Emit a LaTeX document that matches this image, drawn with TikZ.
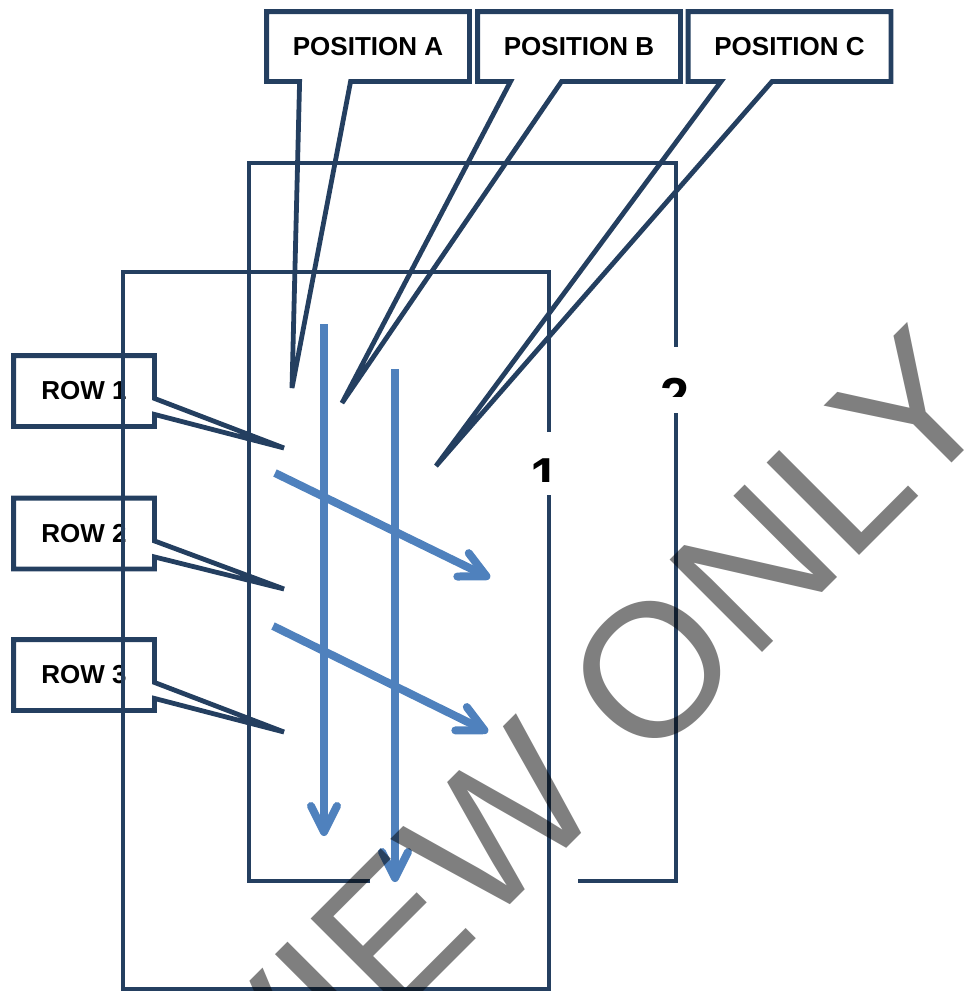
\documentclass[tikz,border=0pt]{standalone}
\usepackage{fontspec}
\setmainfont{Liberation Sans}
\usetikzlibrary{arrows.meta,calc}
\definecolor{frame}{HTML}{243F60}
\definecolor{flow}{HTML}{4F81BD}

\begin{document}
\begin{tikzpicture}[x=0.5pt,y=-0.5pt,
  outline/.style={draw=frame,line width=2.4pt},
  tag/.style={inner sep=0pt,font=\fontsize{13}{15}\selectfont\bfseries},
  postag/.style={tag,minimum width=101pt,minimum height=34.5pt},
  rowtag/.style={tag,minimum width=70pt,minimum height=35pt},
  flowarrow/.style={draw=flow,line width=4pt,-{Straight Barb[length=13pt,width=13pt,round]}},
  bignum/.style={inner sep=0pt,font=\fontsize{26}{26}\selectfont\bfseries},
]
\useasboundingbox (0,0) rectangle (964,991);

% label boxes
\node[postag] (posA) at (368,46.5) {POSITION A};
\node[postag] (posB) at (579,46.5) {POSITION B};
\node[postag] (posC) at (789.5,46.5) {POSITION C};
\node[rowtag] (row1) at (84,391) {ROW 1};
\node[rowtag] (row2) at (84,533.5) {ROW 2};
\node[rowtag] (row3) at (84,675) {ROW 3};

% callout pointer tips
\coordinate (tipA) at (292,388);
\coordinate (tipB) at (342,403);
\coordinate (tipC) at (436,466);
\coordinate (tip1) at (284,448);
\coordinate (tip2) at (284,589);
\coordinate (tip3) at (284,732);

% callout outlines, pointer on the bottom side
\foreach \n/\t in {posA/tipA,posB/tipB,posC/tipC}{
  \draw[outline] (\n.north west) -- (\n.north east) -- (\n.south east)
    -- ($(\n.south west)+(84,0)$) -- (\t) -- ($(\n.south west)+(33,0)$)
    -- (\n.south west) -- cycle;
}
% callout outlines, pointer on the right side
\foreach \n/\t in {row1/tip1,row2/tip2,row3/tip3}{
  \draw[outline] (\n.north west) -- (\n.north east)
    -- ($(\n.south east)+(0,-28)$) -- (\t) -- ($(\n.south east)+(0,-12)$)
    -- (\n.south east) -- (\n.south west) -- cycle;
}

% sheet 2 (back)
\coordinate (s2nw) at (249,163);
\coordinate (s2ne) at (676,163);
\coordinate (s2se) at (676,881);
\coordinate (s2sw) at (249,881);
\draw[outline] (370,881) -- (s2sw) -- (s2nw) -- (s2ne) -- (676,347);
\draw[outline] (676,413) -- (s2se) -- (578,881);

% sheet 1 (front)
\coordinate (s1nw) at (123,272);
\coordinate (s1ne) at (549,272);
\coordinate (s1se) at (549,989);
\coordinate (s1sw) at (123,989);
\draw[outline] (549,432) -- (s1ne) -- (s1nw) -- (s1sw) -- (s1se) -- (549,495);

% sheet numbers
\begin{scope}
  \clip (520,432) rectangle (575,481);
  \node[bignum,anchor=base] (num1) at (545,494) {1};
\end{scope}
\begin{scope}
  \clip (645,347) rectangle (705,396);
  \node[bignum,anchor=base] (num2) at (675,414.5) {2};
\end{scope}

% reading order arrows
\coordinate (c1s) at (324,324);
\coordinate (c1e) at (324,836);
\coordinate (c2s) at (395,369);
\coordinate (c2e) at (395,882);
\coordinate (r1s) at (275,473);
\coordinate (r1e) at (490,578);
\coordinate (r2s) at (273,626);
\coordinate (r2e) at (488,732);
\draw[flowarrow] (c1s) -- (c1e);
\draw[flowarrow] (c2s) -- (c2e);
\draw[flowarrow] (r1s) -- (r1e);
\draw[flowarrow] (r2s) -- (r2e);

% watermark
\begin{scope}
  \clip (0,0) rectangle (964,991);
  \node[inner sep=0pt,anchor=base west,rotate=45,text=black,text opacity=0.5,
        font=\fontsize{95}{95}\selectfont] (mark) at (-10.5,1425.5) {PREVIEW ONLY};
\end{scope}
\end{tikzpicture}
\end{document}
